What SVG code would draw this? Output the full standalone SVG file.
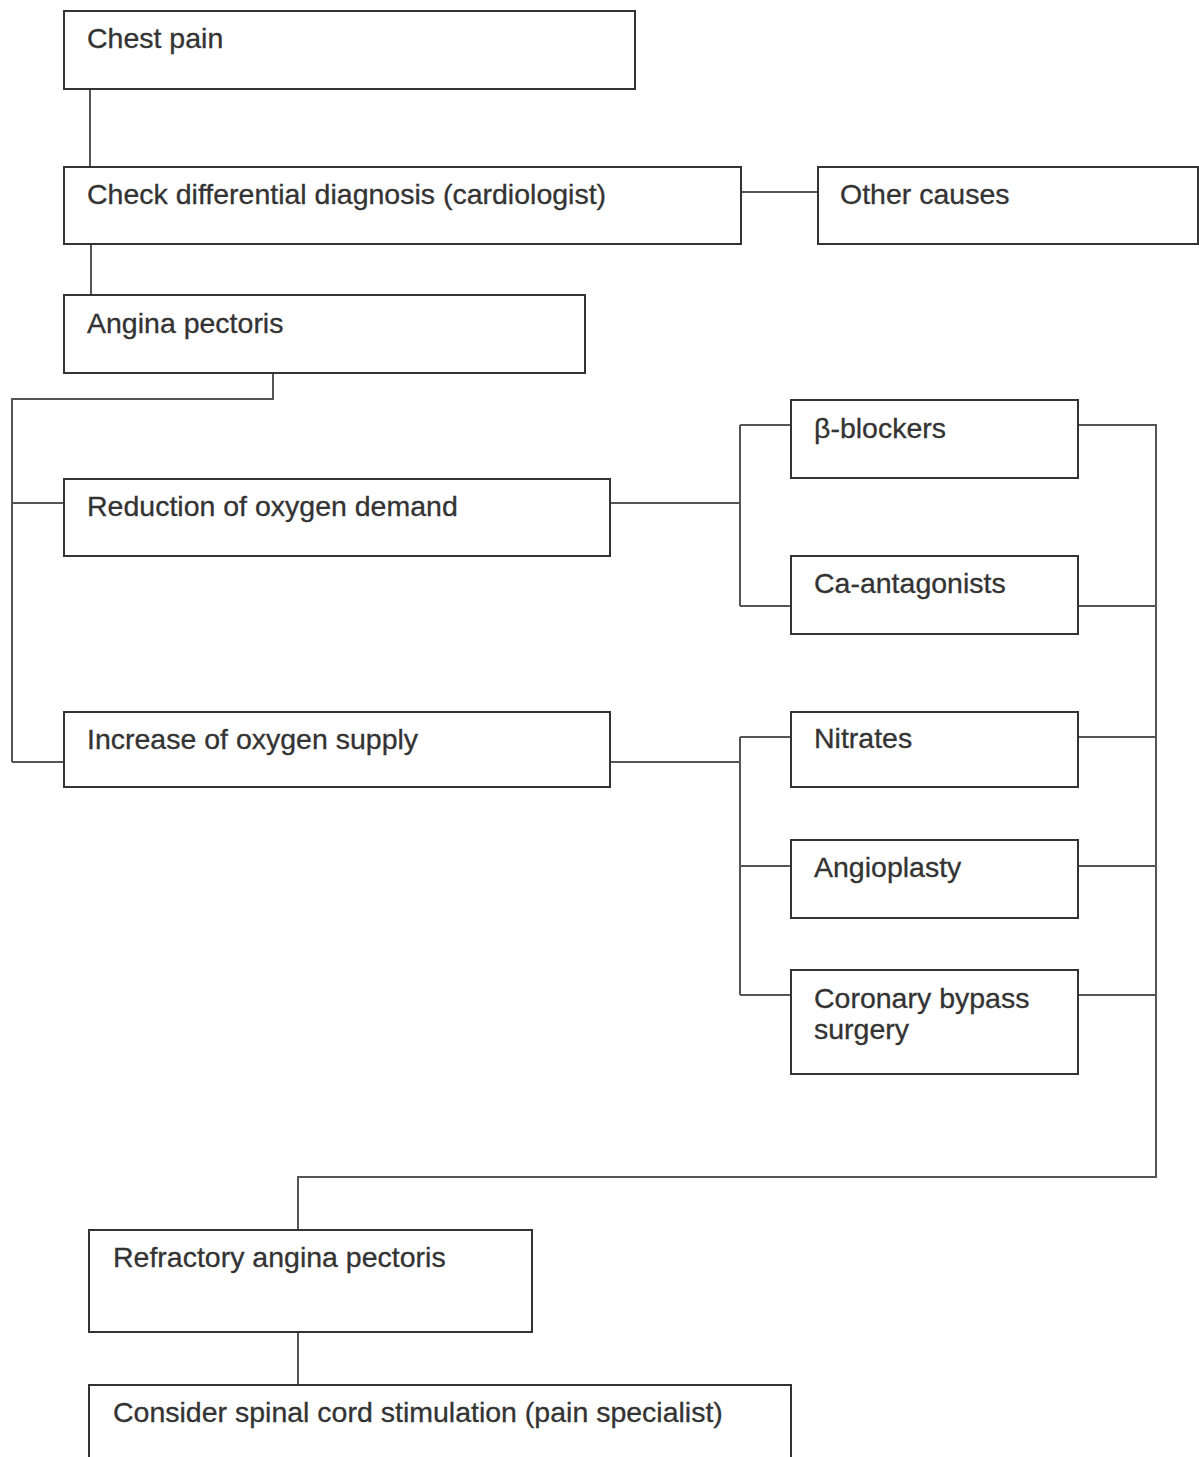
<svg xmlns="http://www.w3.org/2000/svg" width="1199" height="1457" viewBox="0 0 1199 1457">
<style>
.box{fill:#fff;stroke:#333;stroke-width:2}
.t{font-family:"Liberation Sans",Arial,sans-serif;font-size:28.5px;fill:#333;stroke:#333;stroke-width:0.3}
.c{fill:none;stroke:#555;stroke-width:2}
</style>
<rect width="1199" height="1457" fill="#fff"/>
<g id="connectors">
<path class="c" d="M90 89V167"/>
<path class="c" d="M91 244V295"/>
<path class="c" d="M741 192H818"/>
<path class="c" d="M273 373V399H12V762"/>
<path class="c" d="M12 503H64M12 762H64"/>
<path class="c" d="M610 503H740M740 425V606M740 425H791M740 606H791"/>
<path class="c" d="M610 762H740M740 737V995M740 737H791M740 866H791M740 995H791"/>
<path class="c" d="M1078 425H1156V1177H298V1230"/>
<path class="c" d="M1078 606H1156M1078 737H1156M1078 866H1156M1078 995H1156"/>
<path class="c" d="M298 1332V1385"/>
</g>
<g id="n-chest"><rect class="box" x="64" y="11" width="571" height="78"/><text class="t" x="87" y="48">Chest pain</text></g>
<g id="n-check"><rect class="box" x="64" y="167" width="677" height="77"/><text class="t" x="87" y="204">Check differential diagnosis (cardiologist)</text></g>
<g id="n-other"><rect class="box" x="818" y="167" width="380" height="77"/><text class="t" x="840" y="204">Other causes</text></g>
<g id="n-angina"><rect class="box" x="64" y="295" width="521" height="78"/><text class="t" x="87" y="333">Angina pectoris</text></g>
<g id="n-reduction"><rect class="box" x="64" y="479" width="546" height="77"/><text class="t" x="87" y="516">Reduction of oxygen demand</text></g>
<g id="n-increase"><rect class="box" x="64" y="712" width="546" height="75"/><text class="t" x="87" y="749">Increase of oxygen supply</text></g>
<g id="n-beta"><rect class="box" x="791" y="400" width="287" height="78"/><text class="t" x="814" y="438">β-blockers</text></g>
<g id="n-ca"><rect class="box" x="791" y="556" width="287" height="78"/><text class="t" x="814" y="593">Ca-antagonists</text></g>
<g id="n-nitrates"><rect class="box" x="791" y="712" width="287" height="75"/><text class="t" x="814" y="748">Nitrates</text></g>
<g id="n-angioplasty"><rect class="box" x="791" y="840" width="287" height="78"/><text class="t" x="814" y="877">Angioplasty</text></g>
<g id="n-bypass"><rect class="box" x="791" y="970" width="287" height="104"/><text class="t" x="814" y="1008">Coronary bypass</text><text class="t" x="814" y="1039">surgery</text></g>
<g id="n-refractory"><rect class="box" x="89" y="1230" width="443" height="102"/><text class="t" x="113" y="1267">Refractory angina pectoris</text></g>
<g id="n-scs"><rect class="box" x="89" y="1385" width="702" height="80"/><text class="t" x="113" y="1422">Consider spinal cord stimulation (pain specialist)</text></g>
</svg>
